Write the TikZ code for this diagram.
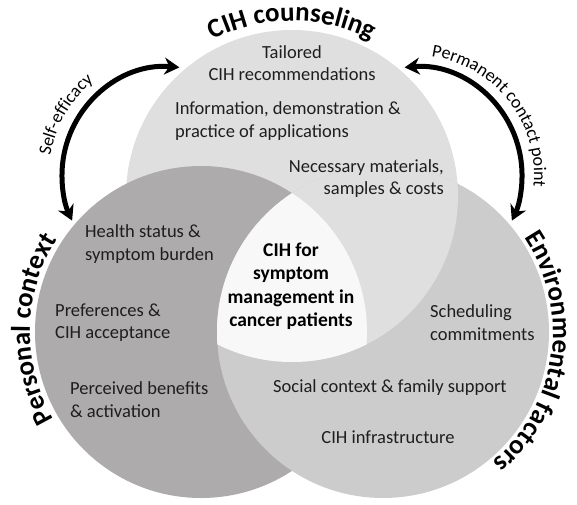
\documentclass[tikz,border=0pt]{standalone}
\usepackage{fontspec}
\setmainfont{Carlito}
\usepackage{xcolor}
\usetikzlibrary{arrows.meta,decorations.text}
\definecolor{counselgray}{RGB}{223,223,223}
\definecolor{personalgray}{RGB}{173,171,171}
\definecolor{environgray}{RGB}{204,204,204}
\definecolor{coregray}{RGB}{248,248,248}
\definecolor{inkgray}{RGB}{30,30,30}
\newcommand{\titlefont}{\fontsize{27}{27}\selectfont\bfseries}
\newcommand{\arcfont}{\fontsize{18}{18}\selectfont}

\begin{document}
\begin{tikzpicture}[x=1pt, y=1pt, >=Stealth,
  itemtext/.style={font=\fontsize{18.5}{22.5}\selectfont, text=inkgray, inner sep=0pt},
  centerlabel/.style={font=\fontsize{19.5}{23.5}\selectfont\bfseries, text=black, align=center, inner sep=0pt},
  linkarrow/.style={line width=5pt, {Stealth[length=15pt,width=17pt]}-{Stealth[length=15pt,width=17pt]}}]
  \useasboundingbox (0,0) rectangle (577,504);

  % Circle centres
  \coordinate (T) at (292,308);
  \coordinate (P) at (201,172);
  \coordinate (E) at (383,172);

  % Circles
  \fill[counselgray] (T) circle (166);
  \fill[personalgray] (P) circle (166);
  \fill[environgray] (E) circle (166);
  \begin{scope}
    \clip (T) circle (166);
    \fill[counselgray] (E) circle (166);
    \clip (P) circle (166);
    \fill[coregray] (E) circle (166);
  \end{scope}

  % Titles along the circles
  \path[decorate, decoration={text along path, text align=center, text={|\titlefont|CIH counseling}}]
    ([shift={(150:175)}]T) arc[start angle=150, end angle=30, radius=175];
  \path[decorate, decoration={text along path, text align=center, text={|\titlefont|Personal context}}]
    ([shift={(230:171)}]P) arc[start angle=230, end angle=128, radius=171];
  \path[decorate, decoration={text along path, text align=center, text={|\titlefont|Environmental factors}}]
    ([shift={(58:170)}]E) arc[start angle=58, end angle=-74, radius=170];

  % Items
  \node[itemtext, align=center] (tailored) at (292,441) {Tailored\\CIH recommendations};
  \node[itemtext, align=left, anchor=west] (information) at (175,383) {Information, demonstration \&\\practice of applications};
  \node[itemtext, align=right, anchor=east] (materials) at (444,325.5) {Necessary materials,\\samples \& costs};
  \node[itemtext, align=left, anchor=west] (health) at (85,260) {Health status \&\\symptom burden};
  \node[itemtext, align=left, anchor=west] (preferences) at (55,181.5) {Preferences \&\\CIH acceptance};
  \node[itemtext, align=left, anchor=west] (benefits) at (70,104.5) {Perceived benefits\\\& activation};
  \node[itemtext, align=left, anchor=west] (scheduling) at (430,181.5) {Scheduling\\commitments};
  \node[itemtext] (social) at (390,116) {Social context \& family support};
  \node[itemtext] (infrastructure) at (388,67) {CIH infrastructure};
  \node[centerlabel] (core) at (291,217.5) {CIH for\\symptom\\management in\\cancer patients};

  % Arrows with labels
  \coordinate (SE) at (170,329);
  \coordinate (PC) at (414,329);
  \draw[linkarrow] ([shift={(85:108)}]SE) arc[start angle=85, end angle=205, radius=108];
  \draw[linkarrow] ([shift={(95:108)}]PC) arc[start angle=95, end angle=-25, radius=108];
  \path[decorate, decoration={text along path, text align=center, text={|\arcfont|Self-efficacy}}]
    ([shift={(190:121)}]SE) arc[start angle=190, end angle=110, radius=121];
  \path[decorate, decoration={text along path, text align=center, text={|\arcfont|Permanent contact point}}]
    ([shift={(98:120)}]PC) arc[start angle=98, end angle=-22, radius=120];
\end{tikzpicture}
\end{document}
